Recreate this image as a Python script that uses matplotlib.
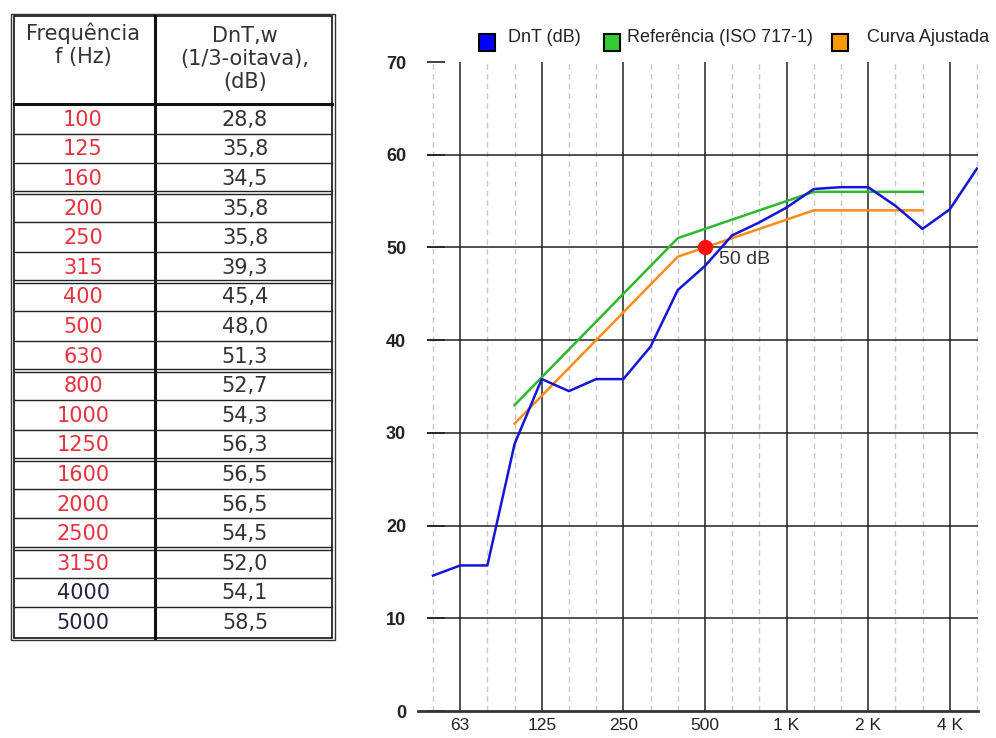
import numpy as np
import matplotlib.pyplot as plt
from matplotlib.patches import Rectangle

# bandas de 1/3 de oitava (50 Hz .. 5000 Hz)
bandas = ['50', '63', '80', '100', '125', '160', '200', '250', '315', '400', '500',
          '630', '800', '1000', '1250', '1600', '2000', '2500', '3150', '4000', '5000']
dnt = [14.6, 15.7, 15.7, 28.8, 35.8, 34.5, 35.8, 35.8, 39.3, 45.4, 48.0,
       51.3, 52.7, 54.3, 56.3, 56.5, 56.5, 54.5, 52.0, 54.1, 58.5]
# curva de referencia ISO 717-1 (100 Hz .. 3150 Hz)
ref_bandas = ['100', '125', '160', '200', '250', '315', '400', '500',
              '630', '800', '1000', '1250', '1600', '2000', '2500', '3150']
referencia = [33, 36, 39, 42, 45, 48, 51, 52, 53, 54, 55, 56, 56, 56, 56, 56]
ajustada = [31, 34, 37, 40, 43, 46, 49, 50, 51, 52, 53, 54, 54, 54, 54, 54]
dntw = 50
dntw_banda = '500'

oitavas = ['63', '125', '250', '500', '1000', '2000', '4000']
oitavas_txt = ['63', '125', '250', '500', '1 K', '2 K', '4 K']
y_ticks = [0, 10, 20, 30, 40, 50, 60, 70]

# tabela
tab_freq = bandas[3:]
tab_val = ['28,8', '35,8', '34,5', '35,8', '35,8', '39,3', '45,4', '48,0', '51,3',
           '52,7', '54,3', '56,3', '56,5', '56,5', '54,5', '52,0', '54,1', '58,5']

legenda = ['DnT (dB)', 'Referência (ISO 717-1)', 'Curva Ajustada']
cores_leg = ['#0000ff', '#33cc33', '#ff9900']

idx = {b: i for i, b in enumerate(bandas)}
x_dnt = [idx[b] for b in bandas]
x_ref = [idx[b] for b in ref_bandas]

fig = plt.figure(figsize=(9.96, 7.38), dpi=100)

# ---- grafico
ax = fig.add_axes([427/996, 27/738, 551/996, 649/738])
ax.set_xlim(-0.22, 20.04)
ax.set_ylim(0, 70)
for s in ax.spines.values():
    s.set_visible(False)

for i, b in enumerate(bandas):
    if b in oitavas:
        ax.axvline(i, color='#333333', lw=1.2, zorder=1)
    else:
        ax.axvline(i, color='#c8c8c8', lw=1, ls=(0, (4, 3)), zorder=1)
for v in y_ticks[1:-1]:
    ax.axhline(v, color='#222222', lw=1.1, zorder=1)
ax.plot([-0.016, 1], [0, 0], transform=ax.get_yaxis_transform(), color='#333333',
        lw=2, clip_on=False, zorder=2)

ax.plot(x_ref, referencia, color='#2db82d', lw=1.8, zorder=3)
ax.plot(x_ref, ajustada, color='#ff8c1a', lw=1.8, zorder=3)
ax.plot(x_dnt, dnt, color='#1515d8', lw=1.8, zorder=4)
ax.plot(idx[dntw_banda], dntw, 'o', color='#ff1010', ms=10, zorder=5)
ax.text(idx[dntw_banda] + 0.5, dntw - 0.4, f'{dntw} dB', fontsize=14,
        color='#333333', family='Liberation Sans', va='top', ha='left')

ax.set_xticks([idx[o] for o in oitavas])
ax.set_xticklabels(oitavas_txt, family='Liberation Sans', fontsize=12.5)
ax.set_yticks(y_ticks)
ax.set_yticklabels([str(v) for v in y_ticks], family='Liberation Sans',
                   fontsize=13, fontweight='bold')
ax.tick_params(axis='x', length=0, pad=5, colors='#222222')
ax.tick_params(axis='y', direction='in', length=13, width=1.2, pad=15,
               colors='#222222')

# ---- camada em pixels para legenda e tabela
ov = fig.add_axes([0, 0, 1, 1], zorder=-1)
ov.set_xlim(0, 996)
ov.set_ylim(738, 0)
ov.axis('off')

leg_x = [479, 604, 832]
txt_x = [508, 627, 867]
for lx, tx, lab, c in zip(leg_x, txt_x, legenda, cores_leg):
    ov.add_patch(Rectangle((lx, 34), 16, 17, facecolor=c, edgecolor='black', lw=1.5))
    ov.text(tx, 38, lab, fontsize=13, family='Liberation Sans', color='#222222',
            va='center', ha='left')

# tabela
x0, x1, xc = 11, 335, 155
y0, yh = 14, 104
rh = 29.6
y1 = yh + rh * len(tab_freq)
ov.add_patch(Rectangle((x0, y0), x1 - x0, y1 - y0 + 3, fill=False, ec='#333333', lw=1))
ov.add_patch(Rectangle((x0 + 3, y0 + 2), x1 - x0 - 6, y1 - y0 - 1, fill=False,
                       ec='#111111', lw=1.2))
ov.plot([xc, xc], [y0 + 2, y1 + 1], color='#111111', lw=2.2)
ov.plot([x0 + 3, x1 - 3], [yh, yh], color='#111111', lw=2.2)
for i in range(1, len(tab_freq)):
    yy = yh + rh * i
    if i % 3 == 0 and i < 16:
        ov.plot([x0 + 3, x1 - 3], [yy - 1.5, yy - 1.5], color='#222222', lw=1)
        ov.plot([x0 + 3, x1 - 3], [yy + 1.5, yy + 1.5], color='#222222', lw=1)
    else:
        ov.plot([x0 + 3, x1 - 3], [yy, yy], color='#222222', lw=1)

ov.text((x0 + xc) / 2, 45, 'Frequência\nf (Hz)', ha='center', va='center',
        fontsize=15, color='#333333', linespacing=1.2)
ov.text((xc + x1) / 2, 59, 'DnT,w\n(1/3-oitava),\n(dB)', ha='center', va='center',
        fontsize=15, color='#333333', linespacing=1.2)
for i, (f, v) in enumerate(zip(tab_freq, tab_val)):
    yy = yh + rh * i + rh / 2 + 1
    cor = '#e6323e' if i < 16 else '#222244'
    ov.text((x0 + xc) / 2, yy, f, ha='center', va='center', fontsize=15, color=cor)
    ov.text((xc + x1) / 2, yy, v, ha='center', va='center', fontsize=15,
            color='#333333')

fig.savefig('out.png', dpi=100)
